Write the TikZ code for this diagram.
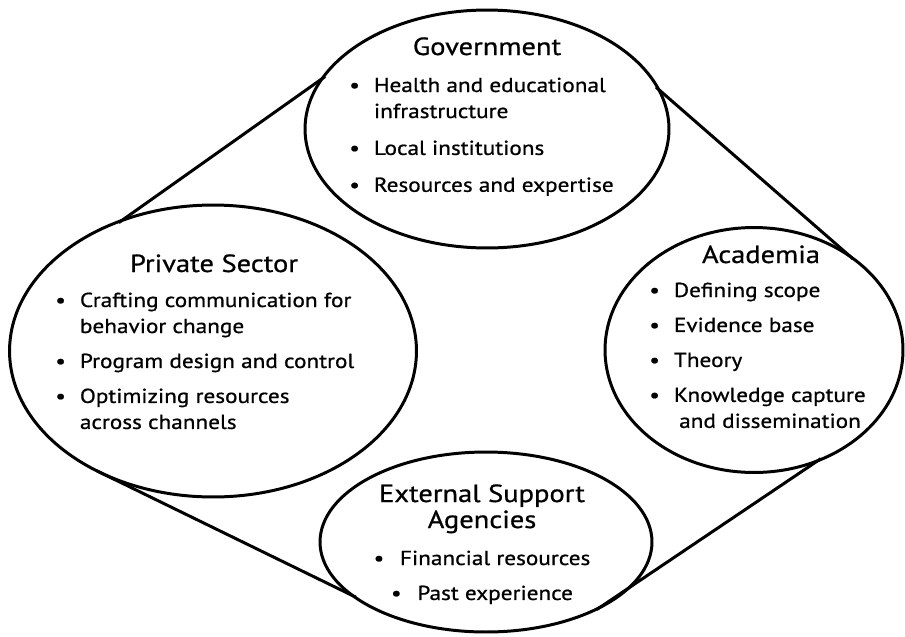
\documentclass[tikz,border=0pt]{standalone}
\usepackage{fontspec}
\setmainfont{PT Sans}[FakeStretch=1.15,FakeBold=0.8]
\usetikzlibrary{shapes.geometric}
\newcommand{\bl}{\makebox[14pt][l]{\textbullet}}

\begin{document}
\begin{tikzpicture}[x=0.02cm,y=-0.02cm,
  sector/.style={draw=black,ellipse,line width=1.7pt,inner sep=0pt,outer sep=0pt},
  link/.style={black,line width=1.7pt,shorten <=-2pt,shorten >=-2pt},
  head/.style={inner sep=0pt,anchor=base,font=\fontsize{14.1}{14.8}\selectfont},
  items/.style={inner sep=0pt,anchor=base west,font=\fontsize{11.5}{14.8}\selectfont}]
\useasboundingbox (0,0) rectangle (905,636);
\node[sector,minimum width=7.28cm,minimum height=4.76cm] (gov) at (487,129) {};
\node[sector,minimum width=8.14cm,minimum height=5.84cm] (priv) at (213,351) {};
\node[sector,minimum width=5.96cm,minimum height=4.9cm] (acad) at (754,350) {};
\node[sector,minimum width=6.64cm,minimum height=3.6cm] (ext) at (486,542) {};
\draw[link] (priv.125.6) -- (gov.163.1);
\draw[link] (gov.13.5) -- (acad.44.2);
\draw[link] (priv.227) -- (ext.202.5);
\draw[link] (ext.-30) -- (acad.-60.6);
\node[head] (govhead) at (487,55) {Government};
\node[items] (govlist) at (349,92) {\begin{tabular}[t]{@{}l@{}l@{}}
\bl & Health and educational\\
    & infrastructure\\[6.2pt]
\bl & Local institutions\\[6.2pt]
\bl & Resources and expertise
\end{tabular}};
\node[head] (privhead) at (214,272) {Private Sector};
\node[items] (privlist) at (55,307) {\begin{tabular}[t]{@{}l@{}l@{}}
\bl & Crafting communication for\\
    & behavior change\\[5.1pt]
\bl & Program design and control\\[5.1pt]
\bl & Optimizing resources\\
    & across channels
\end{tabular}};
\node[head] (acadhead) at (761,263) {Academia};
\node[items] (acadlist) at (649,297) {\begin{tabular}[t]{@{}l@{}l@{}}
\bl & Defining scope\\[5.1pt]
\bl & Evidence base\\[5.1pt]
\bl & Theory\\[5.1pt]
\bl & Knowledge capture\\
    & \hspace{3pt}and dissemination
\end{tabular}};
\node[head] (exthead) at (482,502) {\begin{tabular}[t]{@{}c@{}}
External Support\\
Agencies
\end{tabular}};
\node[items,anchor=base] (extlist) at (482,565) {\begin{tabular}[t]{@{}c@{}}
\textbullet\hspace{9pt}Financial resources\\[5.1pt]
\textbullet\hspace{9pt}Past experience
\end{tabular}};
\end{tikzpicture}
\end{document}
